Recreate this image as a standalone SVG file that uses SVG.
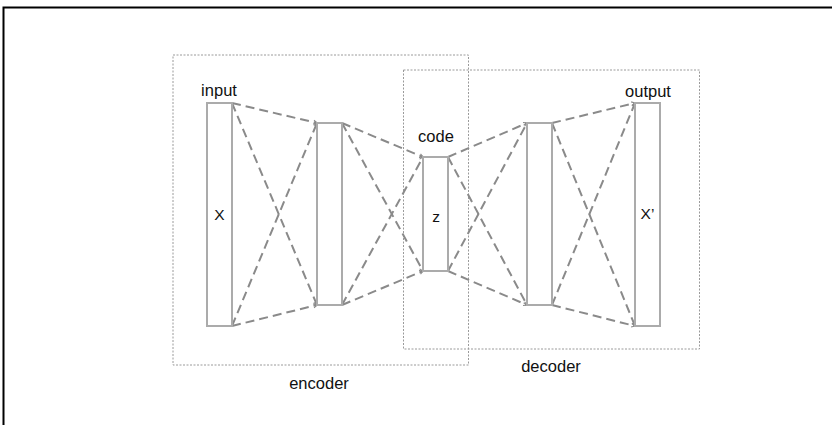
<svg xmlns="http://www.w3.org/2000/svg" width="832" height="425" viewBox="0 0 832 425">
<style>
.frame{fill:none;stroke:#000;stroke-width:2}
.box{fill:none;stroke:#9a9a9a;stroke-width:1;stroke-dasharray:2 1.5}
.bar{fill:#fff;stroke:#ababab;stroke-width:2}
.edge{fill:none;stroke:#8a8a8a;stroke-width:2;stroke-dasharray:9 5}
.lbl{font-family:"Liberation Sans",Arial,sans-serif;font-size:16.5px;fill:#111;text-anchor:middle}
.var{font-family:"Liberation Sans",Arial,sans-serif;font-size:15.5px;fill:#111;text-anchor:middle}
</style>
<defs>
<marker id="ah" markerUnits="userSpaceOnUse" markerWidth="6" markerHeight="6" refX="4.5" refY="3" orient="auto">
<path d="M1,1 L4.5,3 L1,5" fill="none" stroke="#8a8a8a" stroke-width="1.1"/>
</marker>
</defs>
<rect width="832" height="425" fill="#fff"/>
<path class="frame" d="M3.5,425 V7.5 H832"/>
<g id="encoder">
<rect class="box" x="173" y="55" width="295.5" height="310"/>
<text class="lbl" x="319" y="389">encoder</text>
</g>
<g id="decoder">
<rect class="box" x="403.5" y="70" width="296" height="279"/>
<text class="lbl" x="551" y="372">decoder</text>
</g>
<g id="connectors">
<line class="edge" x1="232" y1="103" x2="317" y2="123" marker-end="url(#ah)"/>
<line class="edge" x1="232" y1="103" x2="317" y2="305" marker-end="url(#ah)"/>
<line class="edge" x1="232" y1="326" x2="317" y2="123" marker-end="url(#ah)"/>
<line class="edge" x1="232" y1="326" x2="317" y2="305" marker-end="url(#ah)"/>
<line class="edge" x1="342" y1="123" x2="423" y2="157" marker-end="url(#ah)"/>
<line class="edge" x1="342" y1="123" x2="423" y2="271" marker-end="url(#ah)"/>
<line class="edge" x1="342" y1="305" x2="423" y2="157" marker-end="url(#ah)"/>
<line class="edge" x1="342" y1="305" x2="423" y2="271" marker-end="url(#ah)"/>
<line class="edge" x1="448" y1="157" x2="527" y2="123" marker-end="url(#ah)"/>
<line class="edge" x1="448" y1="157" x2="527" y2="305" marker-end="url(#ah)"/>
<line class="edge" x1="448" y1="271" x2="527" y2="123" marker-end="url(#ah)"/>
<line class="edge" x1="448" y1="271" x2="527" y2="305" marker-end="url(#ah)"/>
<line class="edge" x1="552" y1="123" x2="635" y2="103" marker-end="url(#ah)"/>
<line class="edge" x1="552" y1="123" x2="635" y2="326" marker-end="url(#ah)"/>
<line class="edge" x1="552" y1="305" x2="635" y2="103" marker-end="url(#ah)"/>
<line class="edge" x1="552" y1="305" x2="635" y2="326" marker-end="url(#ah)"/>
</g>
<g id="input">
<rect class="bar" x="207" y="103" width="25" height="223"/>
<text class="lbl" x="219" y="96">input</text>
<text class="var" x="219.5" y="219.5">X</text>
</g>
<g id="hidden1">
<rect class="bar" x="317" y="123" width="25" height="182"/>
</g>
<g id="code">
<rect class="bar" x="423" y="157" width="25" height="114"/>
<text class="lbl" x="436" y="141.5">code</text>
<text class="var" x="436" y="222">z</text>
</g>
<g id="hidden2">
<rect class="bar" x="527" y="123" width="25" height="182"/>
</g>
<g id="output">
<rect class="bar" x="635" y="103" width="25" height="223"/>
<text class="lbl" x="648" y="97">output</text>
<text class="var" x="647.5" y="218.5">X’</text>
</g>
</svg>
